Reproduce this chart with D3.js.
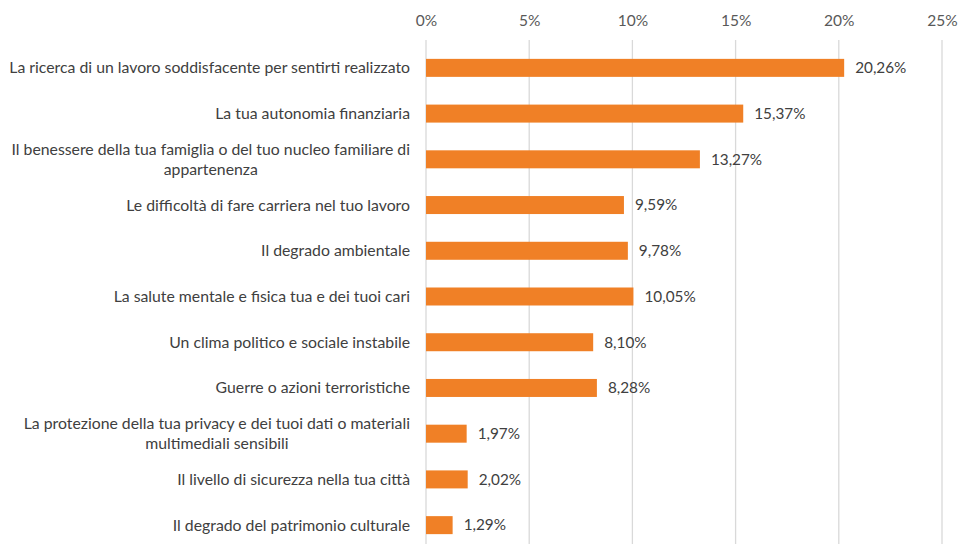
<!DOCTYPE html>
<html><head><meta charset="utf-8">
<script src="https://cdn.jsdelivr.net/npm/d3@7"></script>
<style>body{margin:0;background:#fff}svg{display:block}</style>
</head><body>
<svg id="c" width="960" height="544"></svg>
<script>
const categories = [
  ["La ricerca di un lavoro soddisfacente per sentirti realizzato"],
  ["La tua autonomia finanziaria"],
  ["Il benessere della tua famiglia o del tuo nucleo familiare di","appartenenza"],
  ["Le difficoltà di fare carriera nel tuo lavoro"],
  ["Il degrado ambientale"],
  ["La salute mentale e fisica tua e dei tuoi cari"],
  ["Un clima politico e sociale instabile"],
  ["Guerre o azioni terroristiche"],
  ["La protezione della tua privacy e dei tuoi dati o materiali","multimediali sensibili"],
  ["Il livello di sicurezza nella tua città"],
  ["Il degrado del patrimonio culturale"]
];
const values = [20.26, 15.37, 13.27, 9.59, 9.78, 10.05, 8.10, 8.28, 1.97, 2.02, 1.29];
const valueLabels = ["20,26%","15,37%","13,27%","9,59%","9,78%","10,05%","8,10%","8,28%","1,97%","2,02%","1,29%"];
const ticks = [0,5,10,15,20,25];

const svg = d3.select("#c");
const font = "Lato, 'Open Sans', sans-serif";
const x = d3.scaleLinear().domain([0,25]).range([426,942]);
const y = d3.scaleBand().domain(d3.range(categories.length)).range([45,548]).paddingInner(0.6).paddingOuter(0.3);

// gridlines
svg.append("g").selectAll("line").data(ticks).join("line")
  .attr("x1", d=>x(d)).attr("x2", d=>x(d))
  .attr("y1", 40).attr("y2", 544)
  .attr("stroke", "#d9d9d9").attr("stroke-width", 1.3);

// axis
const axis = d3.axisTop(x).tickValues(ticks).tickFormat(d=>d+"%").tickSize(0).tickPadding(0);
const ag = svg.append("g").attr("transform","translate(0,26)").call(axis);
ag.select(".domain").remove();
ag.selectAll("text").attr("font-family", font).attr("font-size", 15.5).attr("fill","#595959");

// bars
svg.append("g").selectAll("rect").data(values).join("rect")
  .attr("x", x(0)).attr("y", (d,i)=>y(i) + y.bandwidth()/2 - 9)
  .attr("width", d=>x(d)-x(0)).attr("height", 18)
  .attr("fill", "#F08026");

// value labels
svg.append("g").selectAll("text").data(values).join("text")
  .attr("x", d=>x(d)+11).attr("y", (d,i)=>y(i)+y.bandwidth()/2)
  .attr("dy","0.35em").attr("font-family", font).attr("font-size", 15.3).attr("fill","#404040")
  .text((d,i)=>valueLabels[i]);

// category labels
const cg = svg.append("g").selectAll("text").data(categories).join("text")
  .attr("font-family", font).attr("font-size", 15.8).attr("fill","#404040")
  .attr("text-anchor","middle");
cg.each(function(lines,i){
  const t = d3.select(this);
  const cy = y(i)+y.bandwidth()/2;
  const n = lines.length;
  lines.forEach((l,k)=>{
    t.append("tspan").attr("y", cy + (k-(n-1)/2)*20).attr("dy","0.35em").text(l);
  });
  const widths = [];
  t.selectAll("tspan").each(function(){ widths.push(this.getComputedTextLength()); });
  const maxW = d3.max(widths);
  const cx = 410 - maxW/2;
  t.selectAll("tspan").attr("x", cx);
});
</script>
</body></html>
